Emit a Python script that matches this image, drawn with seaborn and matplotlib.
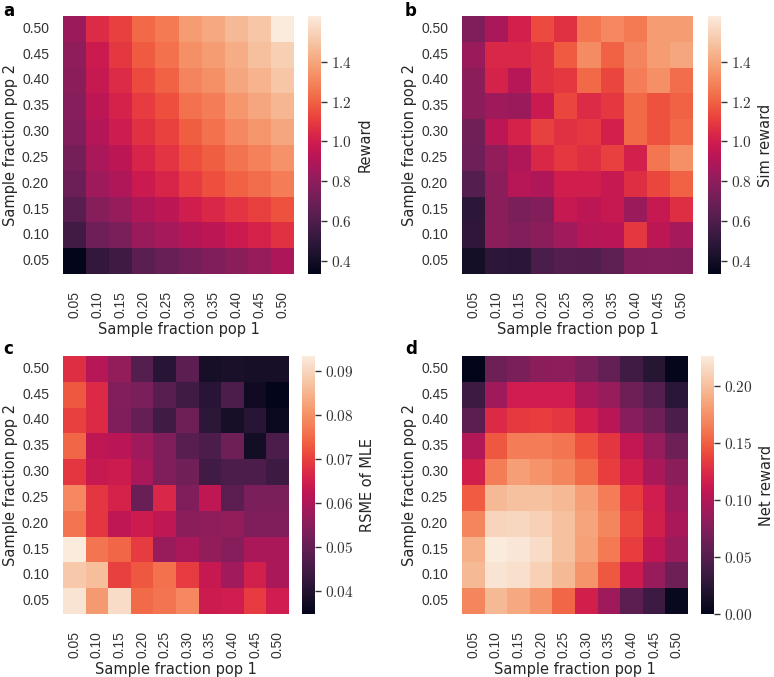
import numpy as np
import pandas as pd
import matplotlib
matplotlib.use('Agg')
import matplotlib.pyplot as plt
import seaborn as sns

plt.rcParams['mathtext.fontset'] = 'cm'

frac = ['0.05', '0.10', '0.15', '0.20', '0.25', '0.30', '0.35', '0.40', '0.45', '0.50']
rows = frac[::-1]  # top row is 0.50

# rows from 0.50 (top) down to 0.05, columns 0.05 -> 0.50
reward = [
    [0.83, 1.05, 1.11, 1.22, 1.27, 1.37, 1.41, 1.46, 1.50, 1.63],
    [0.80, 0.98, 1.09, 1.18, 1.24, 1.33, 1.37, 1.42, 1.48, 1.53],
    [0.79, 0.97, 1.05, 1.14, 1.20, 1.30, 1.33, 1.40, 1.44, 1.50],
    [0.77, 0.94, 1.02, 1.10, 1.15, 1.24, 1.28, 1.35, 1.40, 1.45],
    [0.76, 0.91, 0.99, 1.07, 1.12, 1.19, 1.24, 1.31, 1.35, 1.40],
    [0.72, 0.88, 0.94, 1.03, 1.08, 1.15, 1.19, 1.25, 1.29, 1.34],
    [0.69, 0.84, 0.90, 0.98, 1.03, 1.10, 1.15, 1.20, 1.23, 1.28],
    [0.63, 0.77, 0.82, 0.90, 0.94, 1.00, 1.04, 1.08, 1.11, 1.16],
    [0.56, 0.70, 0.74, 0.83, 0.87, 0.91, 0.94, 0.98, 1.02, 1.07],
    [0.33, 0.51, 0.55, 0.64, 0.68, 0.72, 0.75, 0.78, 0.82, 0.89],
]

sim_reward = [
    [0.75, 0.88, 1.01, 1.14, 1.07, 1.26, 1.31, 1.27, 1.37, 1.37],
    [0.83, 1.04, 1.04, 1.07, 1.18, 1.32, 1.20, 1.30, 1.37, 1.40],
    [0.79, 1.02, 0.92, 1.07, 1.09, 1.22, 1.13, 1.28, 1.33, 1.23],
    [0.79, 0.84, 0.83, 0.98, 1.13, 1.05, 1.09, 1.22, 1.16, 1.20],
    [0.71, 0.94, 1.02, 1.11, 1.07, 1.09, 1.01, 1.22, 1.16, 1.22],
    [0.70, 0.81, 0.90, 1.04, 1.09, 1.06, 1.11, 1.01, 1.26, 1.33],
    [0.62, 0.79, 0.92, 0.90, 1.00, 1.00, 0.97, 1.06, 1.13, 1.20],
    [0.49, 0.78, 0.74, 0.76, 0.97, 0.94, 0.97, 0.83, 0.97, 1.06],
    [0.50, 0.78, 0.76, 0.79, 0.85, 0.92, 0.93, 1.09, 0.94, 0.87],
    [0.40, 0.49, 0.48, 0.59, 0.62, 0.61, 0.65, 0.75, 0.76, 0.75],
]

rmse_mle = [
    [0.0676, 0.0612, 0.0565, 0.0477, 0.0412, 0.0489, 0.0383, 0.0389, 0.0383, 0.0383],
    [0.0729, 0.0670, 0.0541, 0.0530, 0.0483, 0.0448, 0.0412, 0.0465, 0.0371, 0.0348],
    [0.0700, 0.0670, 0.0536, 0.0500, 0.0448, 0.0512, 0.0418, 0.0383, 0.0412, 0.0366],
    [0.0746, 0.0623, 0.0618, 0.0577, 0.0536, 0.0483, 0.0465, 0.0512, 0.0377, 0.0465],
    [0.0688, 0.0635, 0.0641, 0.0594, 0.0536, 0.0518, 0.0448, 0.0465, 0.0465, 0.0442],
    [0.0788, 0.0688, 0.0659, 0.0506, 0.0664, 0.0536, 0.0623, 0.0489, 0.0530, 0.0530],
    [0.0764, 0.0688, 0.0623, 0.0641, 0.0623, 0.0553, 0.0559, 0.0565, 0.0536, 0.0536],
    [0.0934, 0.0764, 0.0746, 0.0694, 0.0571, 0.0594, 0.0565, 0.0547, 0.0594, 0.0594],
    [0.0881, 0.0864, 0.0700, 0.0729, 0.0758, 0.0694, 0.0635, 0.0582, 0.0653, 0.0594],
    [0.0922, 0.0811, 0.0911, 0.0752, 0.0764, 0.0788, 0.0641, 0.0647, 0.0694, 0.0647],
]

net_reward = [
    [0.000, 0.063, 0.070, 0.079, 0.081, 0.070, 0.059, 0.038, 0.023, 0.002],
    [0.036, 0.090, 0.115, 0.115, 0.115, 0.095, 0.086, 0.063, 0.050, 0.025],
    [0.054, 0.124, 0.133, 0.135, 0.131, 0.117, 0.104, 0.077, 0.063, 0.045],
    [0.099, 0.147, 0.165, 0.165, 0.160, 0.144, 0.131, 0.108, 0.086, 0.063],
    [0.117, 0.165, 0.181, 0.176, 0.169, 0.156, 0.135, 0.117, 0.095, 0.079],
    [0.149, 0.196, 0.201, 0.201, 0.196, 0.181, 0.165, 0.135, 0.115, 0.090],
    [0.169, 0.212, 0.214, 0.210, 0.201, 0.185, 0.169, 0.140, 0.117, 0.095],
    [0.192, 0.226, 0.223, 0.217, 0.201, 0.183, 0.163, 0.135, 0.108, 0.088],
    [0.196, 0.221, 0.219, 0.210, 0.196, 0.176, 0.147, 0.113, 0.086, 0.063],
    [0.169, 0.196, 0.187, 0.176, 0.153, 0.117, 0.090, 0.054, 0.036, 0.005],
]

W, H = 774, 677
fig = plt.figure(figsize=(W / 100, H / 100), dpi=100)


def box(x0, y0, x1, y1):
    return [x0 / W, 1 - y1 / H, (x1 - x0) / W, (y1 - y0) / H]


def panel(letter, data, label, hm_box, cb_box, letter_xy, cticks, cfmt, vmin=None, vmax=None):
    ax = fig.add_axes(box(*hm_box))
    cax = fig.add_axes(box(*cb_box))
    df = pd.DataFrame(data, index=rows, columns=frac)
    sns.heatmap(df, ax=ax, cbar_ax=cax, cmap='rocket', vmin=vmin, vmax=vmax,
                cbar_kws={'ticks': cticks})
    ax.set_xticklabels(frac, rotation=90, fontsize=10, family='Liberation Sans')
    ax.set_yticklabels(rows, rotation=0, fontsize=10, family='Liberation Sans')
    ax.tick_params(length=0, colors='#333333')
    ax.tick_params(axis='x', pad=12)
    ax.tick_params(axis='y', pad=10)
    ax.set_xlabel('Sample fraction pop 1', fontsize=10.5, color='#262626', labelpad=3)
    ax.set_ylabel('Sample fraction pop 2', fontsize=10.5, color='#262626', labelpad=3)
    cax.set_yticks(cticks)
    cax.set_yticklabels([r'$%s$' % (cfmt % t) for t in cticks], fontsize=11)
    cax.tick_params(length=4, width=1, colors='#333333')
    cax.set_ylabel(label, fontsize=10.5, color='#262626')
    fig.text(letter_xy[0] / W, 1 - letter_xy[1] / H, letter, fontsize=12,
             fontweight='bold', va='top', ha='left')


panel('a', reward, 'Reward', (63, 16, 294, 274), (308, 16, 321, 274), (3, 2),
      [0.4, 0.6, 0.8, 1.0, 1.2, 1.4], '%.1f', vmin=0.333, vmax=1.63)
panel('b', sim_reward, 'Sim reward', (462, 16, 693, 274), (708, 16, 721, 274), (405, 2),
      [0.4, 0.6, 0.8, 1.0, 1.2, 1.4], '%.1f', vmin=0.333, vmax=1.63)
panel('c', rmse_mle, 'RSME of MLE', (63, 356, 289, 614), (302, 356, 315, 614), (3, 340),
      [0.04, 0.05, 0.06, 0.07, 0.08, 0.09], '%.2f')
panel('d', net_reward, 'Net reward', (462, 356, 688, 614), (701, 356, 714, 614), (405, 340),
      [0.00, 0.05, 0.10, 0.15, 0.20], '%.2f')

plt.savefig('out.png', dpi=100)
